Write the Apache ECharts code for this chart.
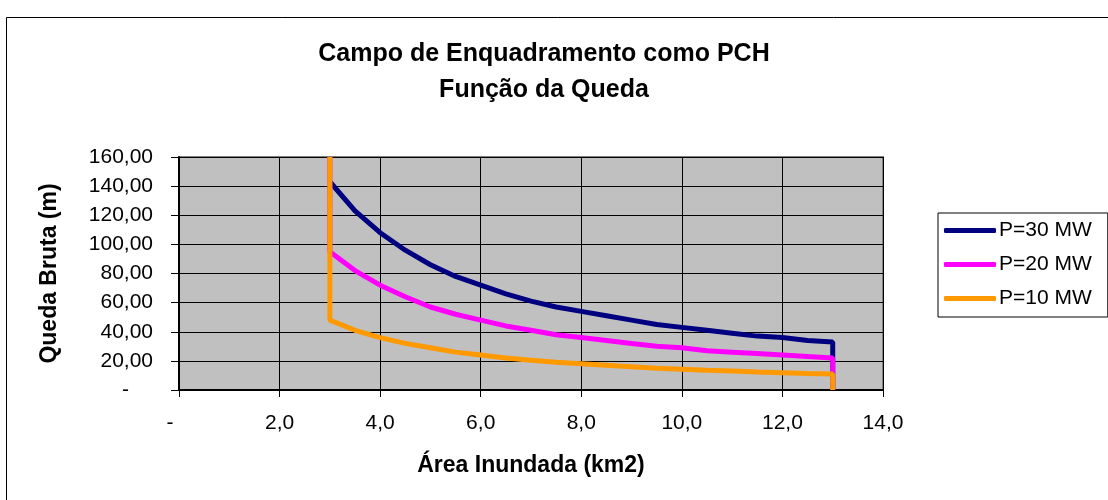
<!DOCTYPE html>
<html>
<head>
<meta charset="utf-8">
<script src="https://cdn.jsdelivr.net/npm/echarts@6/dist/echarts.min.js"></script>
<style>
  html, body { margin: 0; padding: 0; background: #fff; }
  #chart { width: 1108px; height: 500px; }
</style>
</head>
<body>
<div id="chart"></div>
<script>
// Área inundada (km2)
const areas = [3.0, 3.5, 4.0, 4.5, 5.0, 5.5, 6.0, 6.5, 7.0, 7.5, 8.0, 8.5, 9.0, 9.5, 10.0, 10.5, 11.0, 11.5, 12.0, 12.5, 13.0];
// Queda bruta (m)
const p30 = [143, 123, 108, 96, 86, 78, 72, 66, 61, 57, 54, 51, 48, 45, 43, 41, 39, 37, 36, 34, 33];
const p20 = [95, 82, 72, 64, 57, 52, 48, 44, 41, 38, 36, 34, 32, 30, 29, 27, 26, 25, 24, 23, 22];
const p10 = [48, 41, 36, 32, 29, 26, 24, 22, 20.5, 19, 18, 17, 16, 15, 14.3, 13.6, 13, 12.4, 11.9, 11.4, 11];
const seriesNames = ['P=30 MW', 'P=20 MW', 'P=10 MW'];
const colors = ['#000080', '#FF00FF', '#FF9900'];
// limites verticais do campo (topo em A=3, base em A=13)
const topStart = [null, 160, 160];
const bottomEnd = 0;

const font = 'Liberation Sans, Arial, sans-serif';

function buildData(values, top) {
    const data = [];
    if (top !== null) data.push([areas[0], top]);
    areas.forEach((a, i) => data.push([a, values[i]]));
    data.push([areas[areas.length - 1], bottomEnd]);
    return data;
}

const chartDom = document.getElementById('chart');
const myChart = echarts.init(chartDom);

const option = {
    backgroundColor: '#fff',
    animation: false,
    graphic: [{
        type: 'rect',
        left: 4, top: 15,
        shape: { width: 1200, height: 600 },
        style: { fill: 'none', stroke: '#000', lineWidth: 1 }
    }],
    title: {
        text: 'Campo de Enquadramento como PCH\nFunção da Queda',
        left: 539,
        textAlign: 'center',
        top: 31,
        textStyle: { fontFamily: font, fontSize: 25, fontWeight: 'bold', color: '#000', lineHeight: 36 }
    },
    legend: {
        orient: 'vertical',
        left: 938,
        top: 213,
        padding: [7, 16, 8, 6],
        itemGap: 13,
        itemWidth: 52,
        itemHeight: 5,
        icon: 'roundRect',
        borderColor: '#000',
        borderWidth: 1,
        textStyle: { fontFamily: font, fontSize: 21, color: '#000', padding: [0, 0, 0, -2] },
        data: seriesNames
    },
    grid: {
        left: 179, right: 225, top: 157, bottom: 110,
        show: true,
        backgroundColor: '#C0C0C0',
        borderColor: '#808080',
        borderWidth: 2
    },
    xAxis: {
        type: 'value',
        min: 0, max: 14, interval: 2,
        name: 'Área Inundada (km2)',
        nameLocation: 'middle',
        nameGap: 64,
        nameTextStyle: { fontFamily: font, fontSize: 23, fontWeight: 'bold', color: '#000' },
        axisLine: { lineStyle: { color: '#000', width: 2 } },
        axisTick: { show: true, length: 7, lineStyle: { color: '#000' } },
        axisLabel: {
            fontFamily: font, fontSize: 21, color: '#000', margin: 23,
            formatter: v => v === 0 ? '{z|-}' : v.toFixed(1).replace('.', ','),
            rich: { z: { fontFamily: font, fontSize: 21, color: '#000', padding: [0, 18, 0, 0] } }
        },
        splitLine: { show: true, lineStyle: { color: '#000', width: 1 } }
    },
    yAxis: {
        type: 'value',
        min: 0, max: 160, interval: 20,
        name: 'Queda Bruta (m)',
        nameLocation: 'middle',
        nameGap: 118,
        nameTextStyle: { fontFamily: font, fontSize: 23, fontWeight: 'bold', color: '#000' },
        axisLine: { show: true, lineStyle: { color: '#000', width: 2 } },
        axisTick: { show: true, length: 8, lineStyle: { color: '#000' } },
        axisLabel: {
            fontFamily: font, fontSize: 21, color: '#000', margin: 26,
            formatter: v => v === 0 ? '{z|-}' : v.toFixed(2).replace('.', ','),
            rich: { z: { fontFamily: font, fontSize: 21, color: '#000', padding: [0, 24, 0, 0] } }
        },
        splitLine: { show: true, lineStyle: { color: '#000', width: 1 } }
    },
    series: [p30, p20, p10].map((vals, i) => ({
        name: seriesNames[i],
        type: 'line',
        data: buildData(vals, topStart[i]),
        smooth: false,
        showSymbol: false,
        symbol: 'none',
        clip: true,
        lineStyle: { color: colors[i], width: 5 },
        itemStyle: { color: colors[i] }
    }))
};
myChart.setOption(option);
</script>
</body>
</html>
